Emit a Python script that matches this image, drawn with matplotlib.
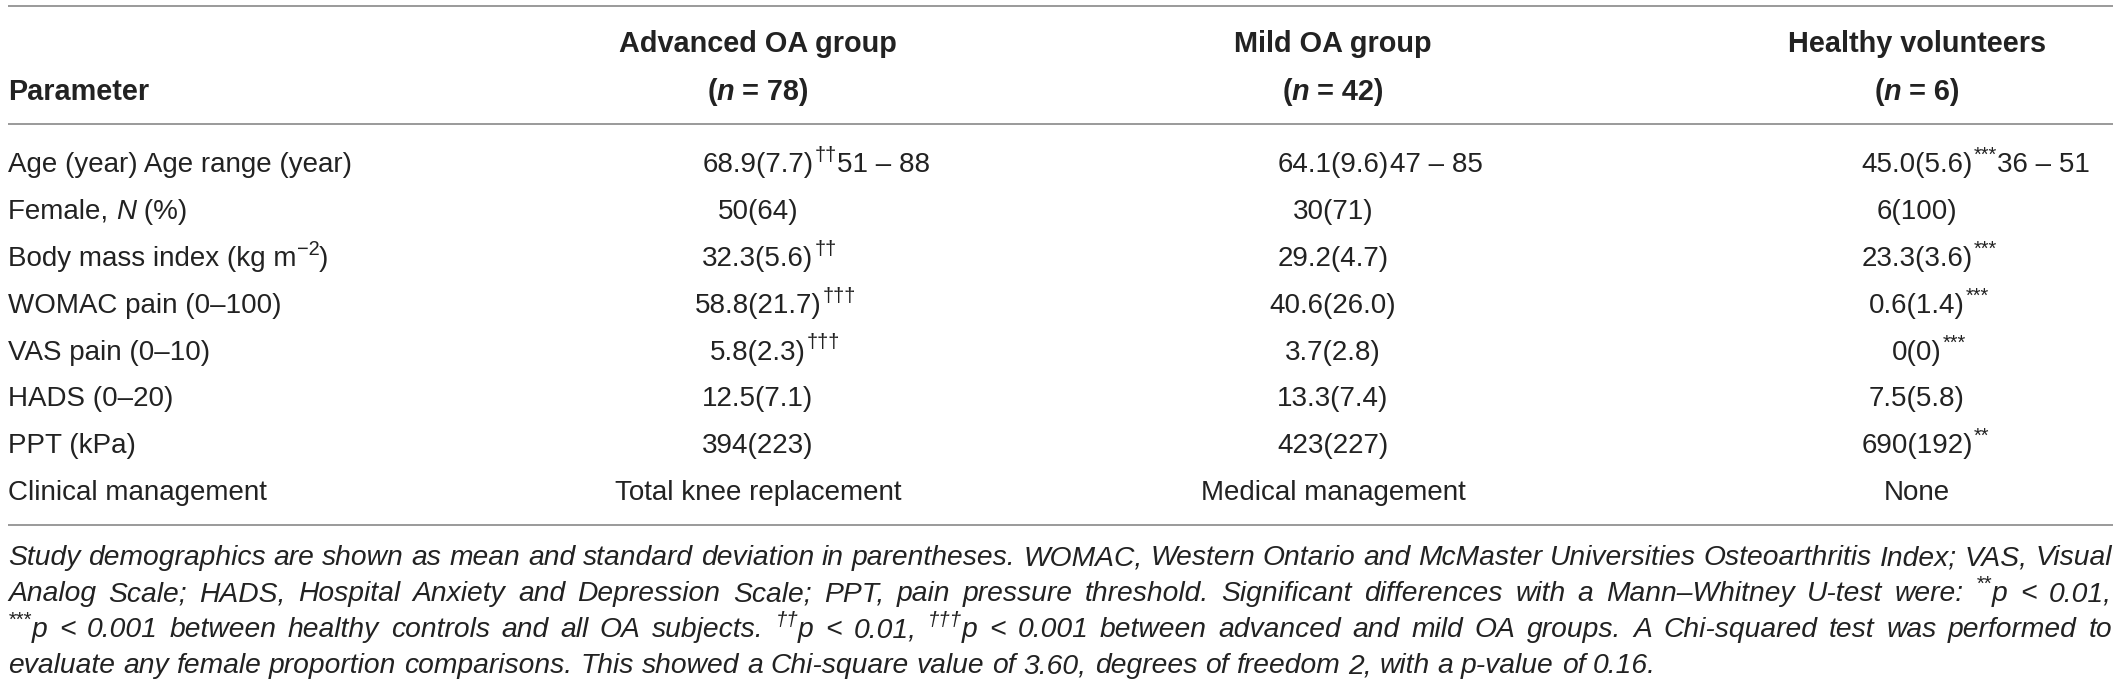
import re
import matplotlib.pyplot as plt

# table content
parameters = [
    "Age (year) Age range (year)",
    "Female, {i:N} (%)",
    "Body mass index (kg m{s:−2})",
    "WOMAC pain (0–100)",
    "VAS pain (0–10)",
    "HADS (0–20)",
    "PPT (kPa)",
    "Clinical management",
]
group_names = ["Advanced OA group", "Mild OA group", "Healthy volunteers"]
group_sizes = ["({bi:n} = 78)", "({bi:n} = 42)", "({bi:n} = 6)"]

advanced = ["68.9(7.7)", "50(64)", "32.3(5.6)", "58.8(21.7)", "5.8(2.3)",
            "12.5(7.1)", "394(223)", "Total knee replacement"]
advanced_extra = ["{s:††}51 – 88", "", "{s:††}", "{s:†††}", "{s:†††}", "", "", ""]
mild = ["64.1(9.6)", "30(71)", "29.2(4.7)", "40.6(26.0)", "3.7(2.8)",
        "13.3(7.4)", "423(227)", "Medical management"]
mild_extra = ["47 – 85", "", "", "", "", "", "", ""]
healthy = ["45.0(5.6)", "6(100)", "23.3(3.6)", "0.6(1.4)", "0(0)",
           "7.5(5.8)", "690(192)", "None"]
healthy_extra = ["{s:***}36 – 51", "", "{s:***}", "{s:***}", "{s:***}", "", "{s:**}", ""]

caption_lines = [
    "Study demographics are shown as mean and standard deviation in parentheses. "
    "WOMAC, Western Ontario and McMaster Universities Osteoarthritis Index; VAS, Visual",
    "Analog Scale; HADS, Hospital Anxiety and Depression Scale; PPT, pain pressure "
    "threshold. Significant differences with a Mann–Whitney U-test were: {s:**}p < 0.01,",
    "{s:***}p < 0.001 between healthy controls and all OA subjects. {s:††}p < 0.01, "
    "{s:†††}p < 0.001 between advanced and mild OA groups. A Chi-squared test was performed to",
    "evaluate any female proportion comparisons. This showed a Chi-square value of 3.60, "
    "degrees of freedom 2, with a p-value of 0.16.",
]

W, H = 2120, 687
FONT = "Liberation Sans"
TXT = "#222222"
RULE = "#9a9a9a"
SIZE = 20.0
HEAD = 20.8

fig = plt.figure(figsize=(W / 100, H / 100), dpi=100)
ax = fig.add_axes([0, 0, 1, 1])
ax.set_xlim(0, W)
ax.set_ylim(H, 0)
ax.axis("off")
renderer = fig.canvas.get_renderer()


def parse(s):
    segs = []
    for part in re.split(r"(\{\w+:[^}]*\})", s):
        if not part:
            continue
        m = re.match(r"\{(\w+):([^}]*)\}", part)
        if m:
            segs.append((m.group(1), m.group(2)))
        else:
            segs.append(("r", part))
    return segs


def make(s, y, size=SIZE, style="normal", weight="normal"):
    # build the pieces at x=0, return them with their offsets and total width
    px = size * 100 / 72
    base = y + 0.36 * px
    pieces, cur = [], 0.0
    for kind, txt in parse(s):
        st, wt, sz, dy = style, weight, size, 0.0
        if kind == "i":
            st = "italic"
        elif kind == "bi":
            st, wt = "italic", "bold"
        elif kind == "s":
            sz, dy = size * 0.72, -0.40 * px
        t = ax.text(0, base + dy, txt, fontsize=sz, fontstyle=st, fontweight=wt,
                    family=FONT, color=TXT, va="baseline", ha="left")
        w = t.get_window_extent(renderer).width
        pieces.append((t, cur))
        cur += w
    return pieces, cur


def width_of(s, **kw):
    pieces, w = make(s, 0, **kw)
    for t, _ in pieces:
        t.remove()
    return w


def place(pieces, x0):
    for t, off in pieces:
        t.set_x(x0 + off)


def draw(s, x, y, ha="left", **kw):
    pieces, w = make(s, y, **kw)
    place(pieces, x - w / 2 if ha == "center" else x)
    return w


def rule(y):
    ax.plot([8, 2113], [y, y], color=RULE, lw=1.4, solid_capstyle="butt")


col_x = [758, 1333, 1917]
row_y = [162 + 46.9 * i for i in range(len(parameters))]

rule(6)
rule(124)
rule(525)

draw("Parameter", 8, 90, weight="bold", size=HEAD)
for cx, name, n in zip(col_x, group_names, group_sizes):
    draw(name, cx, 42, ha="center", weight="bold", size=HEAD)
    draw(n, cx, 90, ha="center", weight="bold", size=HEAD)

for i, y in enumerate(row_y):
    draw(parameters[i], 8, y)
    for cx, vals, extras in zip(col_x, [advanced, mild, healthy],
                                [advanced_extra, mild_extra, healthy_extra]):
        w = draw(vals[i], cx, y, ha="center")
        if extras[i]:
            draw(extras[i], cx + w / 2 + 1, y)

# caption, justified except the last line; size chosen so the last line ends near x=1657
left, right = 8, 2112
cap_size = 19.5
last_w = width_of(caption_lines[-1], size=cap_size, style="italic")
cap_size *= (1657 - left) / last_w
cap_y = [555, 591, 627, 663]
space = width_of("x x", size=cap_size, style="italic") - width_of("xx", size=cap_size, style="italic")
for k, (line, y) in enumerate(zip(caption_lines, cap_y)):
    words = [make(wd, y, size=cap_size, style="italic") for wd in line.split(" ")]
    total = sum(w for _, w in words)
    if k < len(caption_lines) - 1:
        gap = (right - left - total) / (len(words) - 1)
    else:
        gap = space
    x = left
    for pieces, w in words:
        place(pieces, x)
        x += w + gap

fig.savefig("out.png", dpi=100, facecolor="white")
